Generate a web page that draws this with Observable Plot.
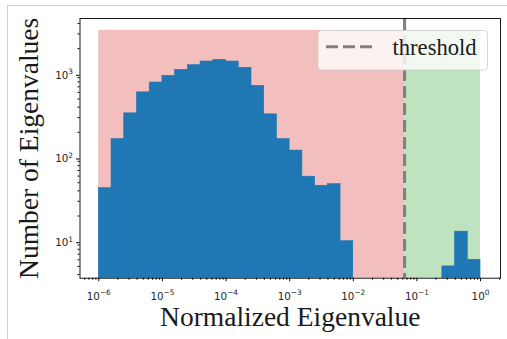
<!DOCTYPE html>
<html><head><meta charset="utf-8">
<script src="https://cdn.jsdelivr.net/npm/d3@7"></script>
<script src="https://cdn.jsdelivr.net/npm/@observablehq/plot@0.6"></script>
<style>
html,body{margin:0;padding:0;background:#fff;}
#fig{position:relative;width:507px;height:339px;overflow:hidden;}
#fig svg.plot{position:absolute;left:0;top:0;}
#frame{position:absolute;left:7px;top:5px;right:-2px;bottom:-2px;border-left:1px solid #cfcfcf;border-top:1px solid #cfcfcf;pointer-events:none;}
#legend{position:absolute;left:0;top:0;pointer-events:none;}
</style></head><body><div id="fig"></div>
<script>
// Histogram bin edges (log10 of normalized eigenvalue)
const binEdgeExp = [-6.0,-5.8,-5.6,-5.4,-5.2,-5.0,-4.8,-4.6,-4.4,-4.2,-4.0,-3.8,-3.6,-3.4,-3.2,-3.0,-2.8,-2.6,-2.4,-2.2,-2.0,-1.8,-1.6,-1.4,-1.2,-1.0,-0.8,-0.6,-0.4,-0.2,0.0];
// Counts per bin
const binCounts = [43,166,337,601,787,946,1116,1268,1403,1470,1403,1180,719,328,166,121,59,46,48,10,0,0,0,0,0,0,0,5,13,6];
const threshold = 0.064;
const regionNames = ["below", "above"];
const regionStart = [1e-6, threshold];
const regionEnd = [threshold, 1];
const regionColors = ["#d62728", "#2ca02c"];
const regionTop = 3300;
const xMajorExp = [-6,-5,-4,-3,-2,-1,0];
const yMajorExp = [1,2,3];

const W = 507, H = 339;
const mL = 79.5, mR = 7, mT = 18, mB = 61.3;
const xDomain = [Math.pow(10,-6.2955), Math.pow(10,0.314)];
const yDomain = [Math.pow(10,0.558), Math.pow(10,3.661)];

const bars = binCounts.map((c,i) => ({x1: Math.pow(10, binEdgeExp[i]), x2: Math.pow(10, binEdgeExp[i+1]), count: c})).filter(d => d.count > 0);
const regions = regionNames.map((n,i) => ({name:n, x1: regionStart[i], x2: regionEnd[i], fill: regionColors[i]}));

function minors(domain) {
  const out = [];
  const lo = Math.floor(Math.log10(domain[0])) , hi = Math.ceil(Math.log10(domain[1]));
  for (let e = lo; e <= hi; e++) for (let k = 2; k <= 9; k++) {
    const v = k * Math.pow(10, e);
    if (v >= domain[0] && v <= domain[1]) out.push(v);
  }
  return out;
}
const xMajor = xMajorExp.map(e => Math.pow(10, e));
const yMajor = yMajorExp.map(e => Math.pow(10, e));
const fmt = v => "10^" + Math.round(Math.log10(v));

const serif = "'Liberation Serif','Times New Roman',serif";

const plot = Plot.plot({
  width: W, height: H,
  marginLeft: mL, marginRight: mR, marginTop: mT, marginBottom: mB,
  style: {background: "transparent", overflow: "visible"},
  x: {type: "log", domain: xDomain},
  y: {type: "log", domain: yDomain},
  marks: [
    Plot.rect(regions, {x1: "x1", x2: "x2", y1: 1, y2: regionTop, fill: "fill", fillOpacity: 0.3, clip: true}),
    Plot.rect(bars, {x1: "x1", x2: "x2", y1: 1, y2: "count", fill: "#1f77b4", stroke: "#1f77b4", strokeWidth: 0.6, clip: true}),
    Plot.ruleX([threshold], {stroke: "gray", strokeWidth: 3, strokeDasharray: "12,5"}),
    Plot.frame({stroke: "black", strokeWidth: 0.9}),
    Plot.axisX({ticks: xMajor, tickFormat: fmt, tickSize: 3.5, tickPadding: 10.5, fontSize: 10, fontFamily: "DejaVu Sans", label: null, fill: "#262626"}),
    Plot.axisX({ticks: minors(xDomain), tickFormat: null, text: null, tickSize: 2, label: null}),
    Plot.axisY({ticks: yMajor, tickFormat: fmt, tickSize: 3.5, tickPadding: 3.5, fontSize: 10, fontFamily: "DejaVu Sans", label: null, dy: 1.5, fill: "#262626"}),
    Plot.axisY({ticks: minors(yDomain), tickFormat: null, text: null, tickSize: 2, label: null}),
    Plot.text(["Normalized Eigenvalue"], {frameAnchor: "bottom", lineAnchor: "middle", textAnchor: "middle", dy: 38.5, fontSize: 27.5, fontFamily: serif, fill: "#1a1a1a"}),
    Plot.text(["Number of Eigenvalues"], {frameAnchor: "left", lineAnchor: "middle", textAnchor: "middle", dx: -50.4, rotate: -90, fontSize: 27.5, fontFamily: serif, fill: "#1a1a1a"})
  ]
});
plot.classList.add("plot");

// superscript tick labels
plot.querySelectorAll("text").forEach(t => {
  const s = t.textContent;
  if (s.startsWith("10^")) {
    const e = s.slice(3).replace("-", "\u2212");
    while (t.firstChild) t.removeChild(t.firstChild);
    t.setAttribute("font-size", "10.3");
    t.setAttribute("font-family", "DejaVu Sans");
    const a = document.createElementNS("http://www.w3.org/2000/svg", "tspan");
    a.textContent = "10";
    const b = document.createElementNS("http://www.w3.org/2000/svg", "tspan");
    b.setAttribute("dy", "-4.3");
    b.setAttribute("font-size", "7.4");
    b.textContent = e;
    t.appendChild(a); t.appendChild(b);
  }
});

const fig = document.getElementById("fig");
fig.appendChild(plot);
const frame = document.createElement("div"); frame.id = "frame"; fig.appendChild(frame);

// legend
const lg = d3.create("svg").attr("id", "legend").attr("width", W).attr("height", H);
lg.append("rect").attr("x", 318).attr("y", 30.5).attr("width", 169.5).attr("height", 39.5).attr("rx", 3.5)
  .attr("fill", "white").attr("fill-opacity", 0.8).attr("stroke", "#cccccc").attr("stroke-opacity", 0.8).attr("stroke-width", 1);
lg.append("line").attr("x1", 326).attr("x2", 372.5).attr("y1", 46.7).attr("y2", 46.7)
  .attr("stroke", "gray").attr("stroke-width", 3).attr("stroke-dasharray", "12,5");
lg.append("text").attr("x", 392.5).attr("y", 55).attr("font-family", serif).attr("font-size", 22.6).attr("fill", "#1a1a1a").text("threshold");
fig.appendChild(lg.node());
</script></body></html>
